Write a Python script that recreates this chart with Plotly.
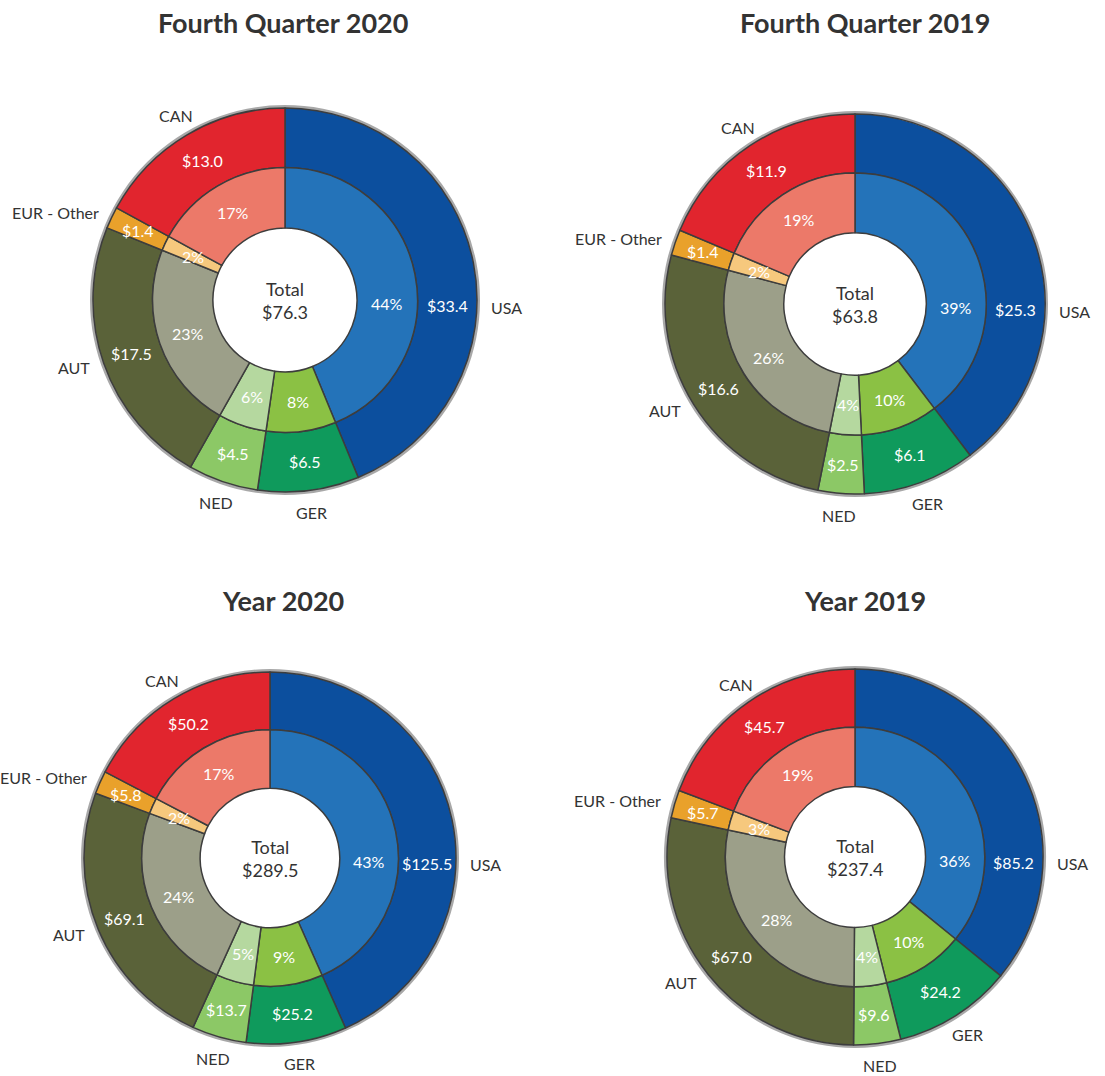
import math
import plotly.graph_objects as go

# ---------------- data ----------------
countries = ["USA", "GER", "NED", "AUT", "EUR - Other", "CAN"]

chart_titles = ["Fourth Quarter 2020", "Fourth Quarter 2019", "Year 2020", "Year 2019"]

q4_2020_values = [33.4, 6.5, 4.5, 17.5, 1.4, 13.0]
q4_2020_pct = [44, 8, 6, 23, 2, 17]

q4_2019_values = [25.3, 6.1, 2.5, 16.6, 1.4, 11.9]
q4_2019_pct = [39, 10, 4, 26, 2, 19]

y2020_values = [125.5, 25.2, 13.7, 69.1, 5.8, 50.2]
y2020_pct = [43, 9, 5, 24, 2, 17]

y2019_values = [85.2, 24.2, 9.6, 67.0, 5.7, 45.7]
y2019_pct = [36, 10, 4, 28, 3, 19]

series_values = [q4_2020_values, q4_2019_values, y2020_values, y2019_values]
series_pct = [q4_2020_pct, q4_2019_pct, y2020_pct, y2019_pct]

# ---------------- style / layout ----------------
W, H = 1105, 1076
outer_colors = ["#0c4f9e", "#0f9a5c", "#8cc866", "#5a6239", "#e9a12b", "#e1252e"]
inner_colors = ["#2473b9", "#8bc144", "#b5d89f", "#9c9f89", "#f6c87d", "#ec7969"]
line_color = "#3d3d3d"
text_dark = "#333333"
FONT = "Lato"

# chart centres (px) and outer radius (px)
centres = [(285, 300, 192), (855, 304, 190), (270, 858, 186), (855, 857, 188)]
title_pos = [(283, 22), (865, 22), (283, 600), (865, 600)]
INNER_RATIO = 0.69
HOLE_RATIO = 0.375
label_angle_override = {"USA": 92}


def dom(cx, cy, r):
    return dict(x=[(cx - r) / W, (cx + r) / W], y=[1 - (cy + r) / H, 1 - (cy - r) / H])


fig = go.Figure()
annotations = []


def px_ann(x, y, text, size, color, xanchor="center", yanchor="middle", bold=False):
    annotations.append(dict(
        x=x / W, y=1 - y / H, xref="paper", yref="paper", showarrow=False,
        text=f"<b>{text}</b>" if bold else text,
        font=dict(family=FONT, size=size, color=color),
        xanchor=xanchor, yanchor=yanchor,
    ))


for i in range(4):
    vals = series_values[i]
    pcts = series_pct[i]
    cx, cy, R = centres[i]
    r_in = R * INNER_RATIO
    r_hole = R * HOLE_RATIO

    # subtle outer shadow ring
    fig.add_trace(go.Pie(
        values=[1], labels=["shadow"], domain=dom(cx, cy, R + 3), hole=R / (R + 3),
        marker=dict(colors=["#a8a8a8"], line=dict(width=0)), textinfo="none",
        hoverinfo="skip", showlegend=False, sort=False,
    ))
    fig.add_trace(go.Pie(
        values=vals, labels=countries, domain=dom(cx, cy, R), hole=r_in / R,
        sort=False, direction="clockwise", rotation=0,
        marker=dict(colors=outer_colors, line=dict(color=line_color, width=1.5)),
        textinfo="none", showlegend=False,
    ))
    fig.add_trace(go.Pie(
        values=vals, labels=countries, domain=dom(cx, cy, r_in), hole=r_hole / r_in,
        sort=False, direction="clockwise", rotation=0,
        marker=dict(colors=inner_colors, line=dict(color=line_color, width=1.5)),
        textinfo="none", showlegend=False,
    ))

    total = sum(vals)
    cum = 0.0
    for name, v, p in zip(countries, vals, pcts):
        mid = (cum + v / 2) / total
        cum += v
        ang = label_angle_override.get(name, 360 * mid)
        a = math.radians(ang)
        s, c = math.sin(a), math.cos(a)
        # value in outer ring
        ro = (r_in + R) / 2
        px_ann(cx + ro * s, cy - ro * c, f"${v:.1f}", 16, "white")
        # percent in inner ring
        ri = (r_hole + r_in) / 2
        px_ann(cx + ri * s, cy - ri * c, f"{p}%", 16, "white")
        # outside label
        if abs(s) > 0.6:
            rl = R + 12
            xa = "left" if s > 0 else "right"
        else:
            rl = R + 22
            xa = "center"
        px_ann(cx + rl * s, cy - rl * c, name, 16, text_dark, xa, "middle")

    px_ann(cx, cy, f"Total<br>${total:.1f}", 18, text_dark)
    tx, ty = title_pos[i]
    px_ann(tx, ty, chart_titles[i], 27, text_dark, bold=True)

fig.update_layout(
    width=W, height=H, margin=dict(l=0, r=0, t=0, b=0),
    paper_bgcolor="white", plot_bgcolor="white",
    annotations=annotations, showlegend=False,
)
fig.write_html(
    "out.html",
    config={"displayModeBar": False},
    post_script="document.body.style.margin='0';document.body.style.overflow='hidden';",
)
